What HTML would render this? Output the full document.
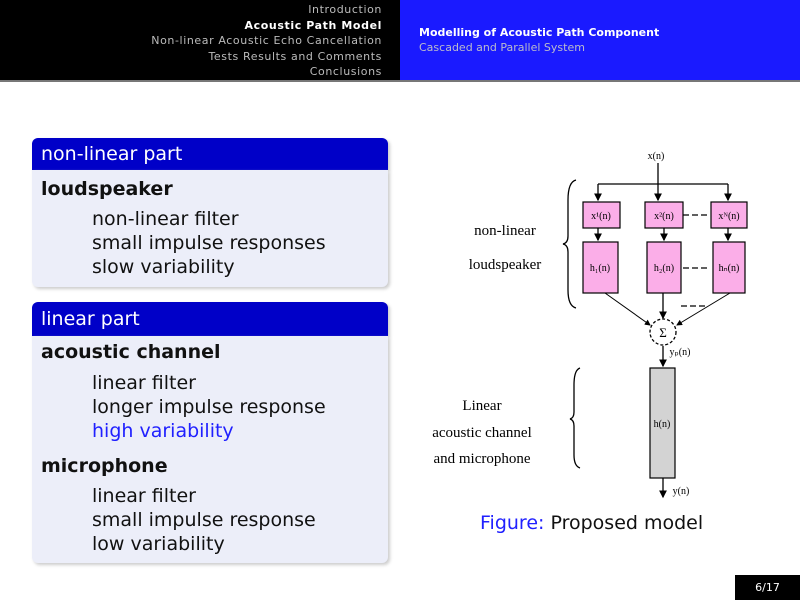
<!DOCTYPE html><html><head><style>
body{margin:0;width:800px;height:600px;background:#fff;position:relative;overflow:hidden;font-family:"DejaVu Sans","Liberation Sans",sans-serif}
.a{position:absolute;white-space:nowrap}
.hl{left:0;top:0;width:400px;height:80px;background:#000}
.hr{left:400px;top:0;width:400px;height:80px;background:#1a1aff}
.nav{right:418px;font-size:11px;color:#bbb;text-align:right;line-height:15.5px;top:2px;letter-spacing:0.6px}
.bt{background:#0000c8;color:#fff;font-size:19px;padding-left:9px;border-radius:6px 6px 0 0;box-shadow:2px 2px 3px #ccc}
.bb{background:#eceef9;border-radius:0 0 6px 6px;box-shadow:2px 2px 3px #ccc}
.t{font-size:19px;color:#111}
.b{font-weight:bold}
</style></head><body>
<div class="a hl"></div><div class="a hr"></div>
<div class="a" style="left:0;top:80px;width:800px;height:2px;background:#777"></div>
<div class="a nav"><span>Introduction</span><br><span style="color:#fff;font-weight:bold">Acoustic Path Model</span><br>Non-linear Acoustic Echo Cancellation<br>Tests Results and Comments<br>Conclusions</div>
<div class="a" style="left:419px;top:25px;font-size:11px;color:#fff;line-height:15px;font-weight:bold">Modelling of Acoustic Path Component<br><span style="color:#bbc;font-weight:normal">Cascaded and Parallel System</span></div>

<div class="a bt" style="left:32px;top:138px;width:347px;height:32px;line-height:32px">non-linear part</div>
<div class="a bb" style="left:32px;top:170px;width:356px;height:117px"></div>
<div class="a t b" style="left:41px;top:178px">loudspeaker</div>
<div class="a t" style="left:92px;top:207px;line-height:24px">non-linear filter<br>small impulse responses<br>slow variability</div>

<div class="a bt" style="left:32px;top:302px;width:347px;height:34px;line-height:34px">linear part</div>
<div class="a bb" style="left:32px;top:336px;width:356px;height:227px"></div>
<div class="a t b" style="left:41px;top:341px">acoustic channel</div>
<div class="a t" style="left:92px;top:371px;line-height:24px">linear filter<br>longer impulse response<br><span style="color:#2020ff">high variability</span></div>
<div class="a t b" style="left:41px;top:455px">microphone</div>
<div class="a t" style="left:92px;top:484px;line-height:24px">linear filter<br>small impulse response<br>low variability</div>

<svg class="a" style="left:0;top:0" width="800" height="600" font-family="Liberation Serif,serif" font-size="10">
<defs><marker id="m" markerWidth="6" markerHeight="6" refX="5" refY="3" orient="auto"><path d="M0,0L6,3L0,6z" fill="#000"/></marker></defs>
<g stroke="#000" stroke-width="1.3" fill="none">
<line x1="658" y1="163" x2="658" y2="200" marker-end="url(#m)"/>
<line x1="598" y1="184" x2="728" y2="184"/>
<line x1="598" y1="184" x2="598" y2="200" marker-end="url(#m)"/>
<line x1="728" y1="184" x2="728" y2="200" marker-end="url(#m)"/>
<line x1="598" y1="228" x2="598" y2="240" marker-end="url(#m)"/>
<line x1="664" y1="228" x2="664" y2="240" marker-end="url(#m)"/>
<line x1="728" y1="228" x2="728" y2="240" marker-end="url(#m)"/>
<line x1="605" y1="293" x2="650" y2="325" stroke-width="1" marker-end="url(#m)"/>
<line x1="663" y1="293" x2="663" y2="318" marker-end="url(#m)"/>
<line x1="730" y1="293" x2="677" y2="325" stroke-width="1" marker-end="url(#m)"/>
<line x1="663" y1="346" x2="663" y2="366" marker-end="url(#m)"/>
<line x1="663" y1="478" x2="663" y2="497" marker-end="url(#m)"/>
<g stroke-dasharray="6,3" stroke-width="1.2"><line x1="683" y1="215" x2="710" y2="215"/><line x1="683" y1="268" x2="710" y2="268"/><line x1="681" y1="306" x2="706" y2="306"/></g>
<circle cx="663" cy="332" r="13" stroke-dasharray="3,2"/>
<path d="M576,180 Q568,182 568,200 L568,236 Q568,243 563,244 Q568,245 568,252 L568,290 Q568,306 576,308"/>
<path d="M580,368 Q574,370 574,385 L574,412 Q574,418 570,419 Q574,420 574,426 L574,455 Q574,466 580,468"/>
</g>
<g stroke="#000" fill="#fbaee8" stroke-width="1.2">
<rect x="583" y="202" width="37" height="26"/><rect x="645" y="202" width="38" height="26"/><rect x="711" y="202" width="36" height="26"/>
<rect x="583" y="242" width="35" height="51"/><rect x="647" y="242" width="34" height="51"/><rect x="713" y="242" width="32" height="51"/>
</g>
<rect x="650" y="368" width="25" height="110" fill="#d3d3d3" stroke="#000" stroke-width="1.2"/>
<g font-size="10" text-anchor="middle">
<text x="656" y="159">x(n)</text>
<text x="601" y="219">x¹(n)</text><text x="664" y="219">x²(n)</text><text x="729" y="219">xᴺ(n)</text>
<text x="600" y="271">h₁(n)</text><text x="664" y="271">h₂(n)</text><text x="729" y="271">hₙ(n)</text>
<text x="663" y="337" font-size="13">Σ</text>
<text x="680" y="355">yₚ(n)</text>
<text x="662" y="427">h(n)</text>
<text x="681" y="494">y(n)</text>
</g>
<g font-size="15" text-anchor="middle">
<text x="505" y="235">non-linear</text><text x="505" y="269">loudspeaker</text>
<text x="482" y="410">Linear</text><text x="482" y="437">acoustic channel</text><text x="482" y="463">and microphone</text>
</g>
</svg>
<div class="a" style="left:480px;top:512px;font-size:19px;color:#111"><span style="color:#2020ff">Figure:</span> Proposed model</div>
<div class="a" style="left:735px;top:575px;width:65px;height:25px;background:#000;color:#fff;font-size:11px;line-height:25px;text-align:center">6/17</div>
</body></html>
